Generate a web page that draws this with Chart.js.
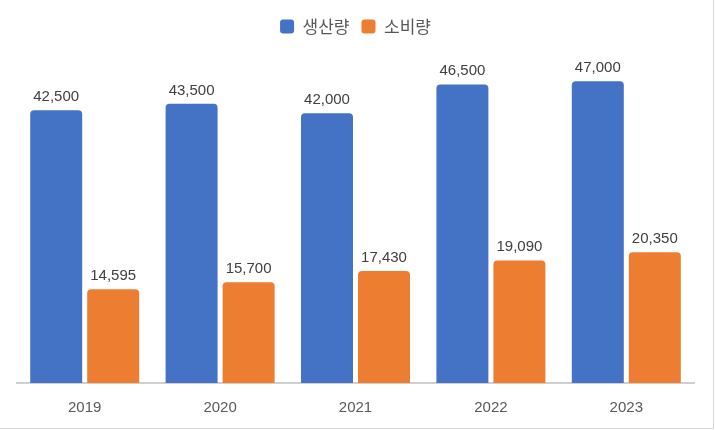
<!DOCTYPE html>
<html>
<head>
<meta charset="utf-8">
<script src="https://cdn.jsdelivr.net/npm/chart.js@4.4.0/dist/chart.umd.min.js"></script>
<style>
  html, body { margin: 0; padding: 0; background: #fff; }
  #wrap { position: relative; width: 715px; height: 430px; }
  #frame { position: absolute; left: 0; top: 0; width: 713px; height: 428px;
           border-right: 1px solid #d9d9d9; border-bottom: 1px solid #d9d9d9; pointer-events: none; }
</style>
</head>
<body>
<div id="wrap">
  <canvas id="c" width="715" height="430"></canvas>
  <div id="frame"></div>
</div>
<script>
const categories = ['2019', '2020', '2021', '2022', '2023'];
const seriesNames = ['생산량', '소비량'];
const production = [42500, 43500, 42000, 46500, 47000];
const consumption = [14595, 15700, 17430, 19090, 20350];
const colors = ['#4472C4', '#ED7D31'];

const legendMargin = {
  id: 'legendMargin',
  beforeInit(chart) {
    const origFit = chart.legend.fit;
    chart.legend.fit = function () {
      origFit.bind(chart.legend)();
      this.height += 17;
    };
  }
};

const valueLabels = {
  id: 'valueLabels',
  afterDatasetsDraw(chart) {
    const ctx = chart.ctx;
    ctx.save();
    ctx.font = '15px "Liberation Sans", Arial, sans-serif';
    ctx.fillStyle = '#404040';
    ctx.textAlign = 'center';
    ctx.textBaseline = 'alphabetic';
    chart.data.datasets.forEach((ds, i) => {
      const meta = chart.getDatasetMeta(i);
      meta.data.forEach((bar, j) => {
        ctx.fillText(ds.data[j].toLocaleString('en-US'), bar.x, bar.y - 9);
      });
    });
    ctx.restore();
  }
};

new Chart(document.getElementById('c'), {
  type: 'bar',
  data: {
    labels: categories,
    datasets: [
      { label: seriesNames[0], data: production, backgroundColor: colors[0] },
      { label: seriesNames[1], data: consumption, backgroundColor: colors[1] }
    ]
  },
  options: {
    responsive: false,
    animation: false,
    devicePixelRatio: 1,
    categoryPercentage: 0.842,
    barPercentage: 0.912,
    borderSkipped: 'bottom',
    borderRadius: { topLeft: 4, topRight: 4, bottomLeft: 0, bottomRight: 0 },
    layout: { padding: { left: 17, right: 21, top: 6, bottom: -2 } },
    plugins: {
      legend: {
        position: 'top',
        labels: {
          boxWidth: 14,
          boxHeight: 14,
          useBorderRadius: true,
          borderRadius: 3,
          padding: 12,
          color: '#595959',
          font: { family: '"Noto Sans CJK KR", sans-serif', size: 17 }
        }
      },
      tooltip: { enabled: false }
    },
    scales: {
      x: {
        grid: { display: false, drawTicks: false },
        border: { display: true, color: '#d0d0d0', width: 2 },
        ticks: { color: '#595959', padding: 17, font: { family: '"Liberation Sans", Arial, sans-serif', size: 15, lineHeight: 1 } }
      },
      y: {
        display: false,
        min: 0,
        max: 50000
      }
    }
  },
  plugins: [legendMargin, valueLabels]
});
</script>
</body>
</html>
